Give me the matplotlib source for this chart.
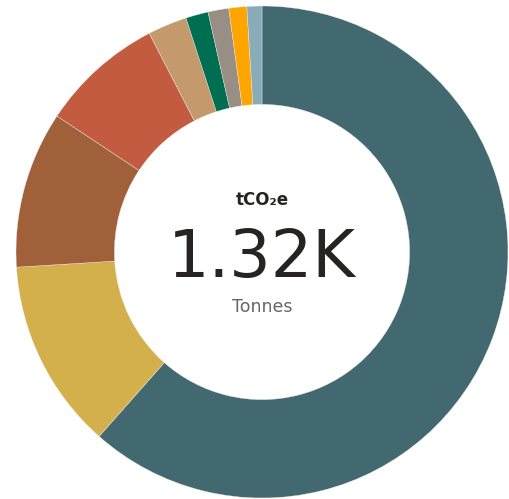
import matplotlib.pyplot as plt

# emissions by source, tonnes CO2e
sources = ["A", "B", "C", "D", "E", "F", "G", "H", "I"]
tonnes = [812, 165, 136, 107, 34, 19.5, 18, 15.5, 13]
colors = ["#426870", "#D4B04C", "#A0613A", "#C25B3F", "#C49A6C",
          "#006E51", "#998E83", "#FFA500", "#8AACB8"]
total_label = "1.32K"

fig = plt.figure(figsize=(5.10, 4.99), dpi=100)
ax = fig.add_axes([0, 0, 1, 1])

cx, cy, r = 262, 499 - 252, 246
ax.pie(tonnes, colors=colors, startangle=90, counterclock=False,
       center=(cx, cy), radius=r, frame=True,
       wedgeprops=dict(width=r * 0.40, edgecolor="#f2f2f2", linewidth=0.25))
ax.set_xlim(0, 510)
ax.set_ylim(0, 499)
ax.set_aspect("auto")
ax.axis("off")

# centre labels
ax.text(cx, 499 - 200, "tCO₂e", ha="center", va="center",
        fontsize=12, fontweight="bold", color="#252423")
ax.text(cx, 499 - 259, total_label, ha="center", va="center",
        fontsize=47, color="#252423")
ax.text(cx, 499 - 307, "Tonnes", ha="center", va="center",
        fontsize=12.5, color="#666666")

fig.savefig("out.png", dpi=100)
